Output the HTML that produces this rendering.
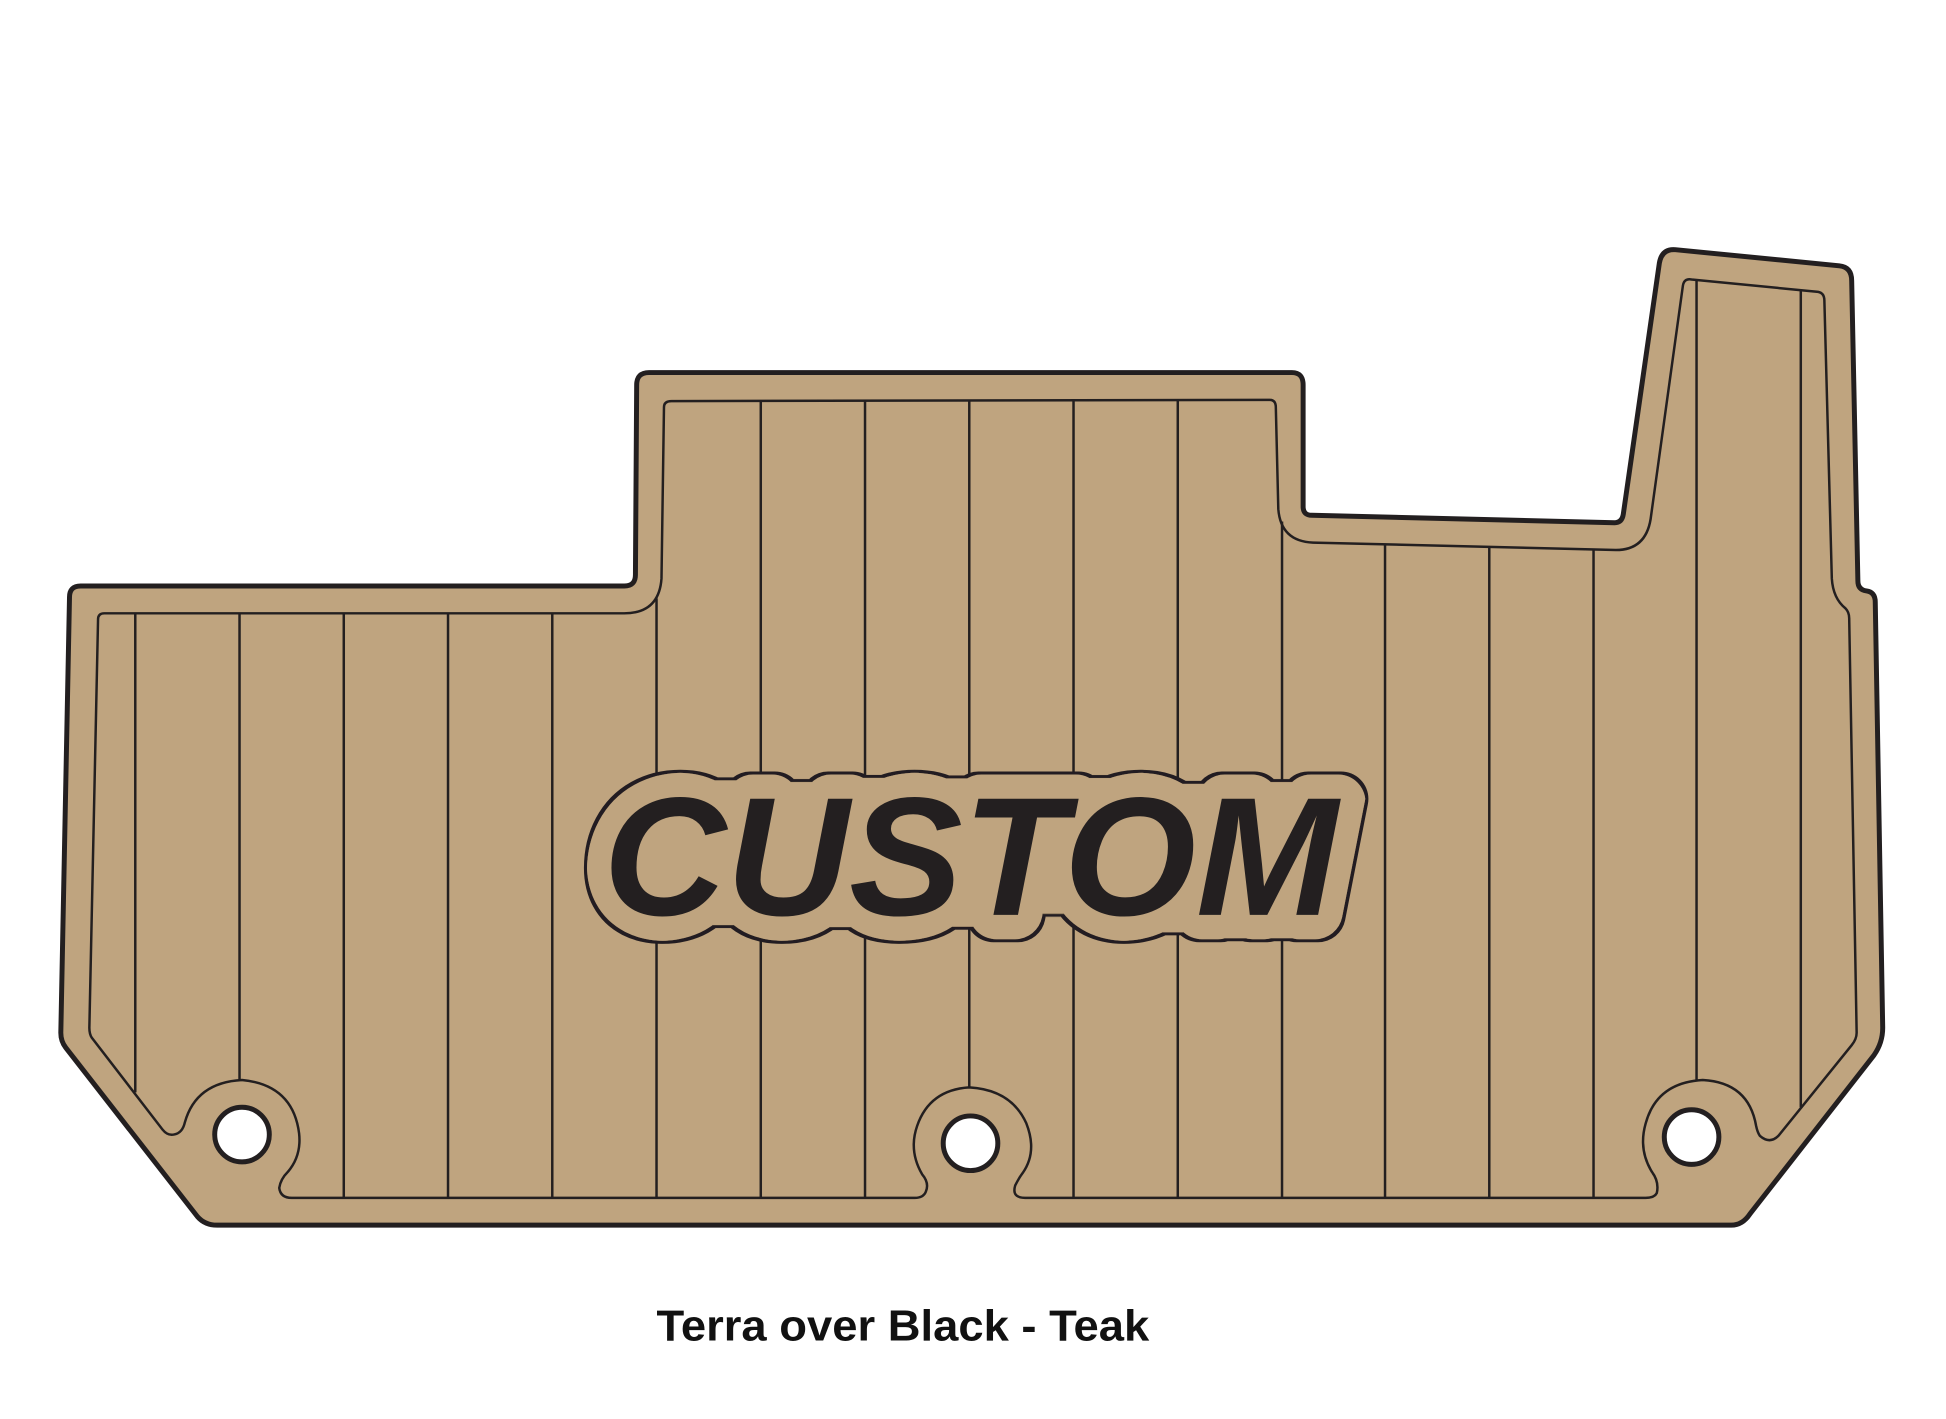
<!DOCTYPE html>
<html><head><meta charset="utf-8"><style>html,body{margin:0;padding:0;background:#fff}svg{display:block}</style></head><body>
<svg width="1946" height="1419" viewBox="0 0 1568 1143" xmlns="http://www.w3.org/2000/svg">
<defs>
<filter id="bub" x="-10%" y="-40%" width="120%" height="180%">
<feMorphology in="SourceAlpha" operator="dilate" radius="6" result="d"/>
<feMorphology in="d" operator="erode" radius="6" result="c"/>
<feMorphology in="c" operator="erode" radius="2.3" result="t"/>
<feFlood flood-color="#231F20" result="fd"/><feComposite in="fd" in2="c" operator="in" result="dk"/>
<feFlood flood-color="#BFA47F" result="ft"/><feComposite in="ft" in2="t" operator="in" result="tn"/>
<feMerge><feMergeNode in="dk"/><feMergeNode in="tn"/></feMerge>
</filter>
</defs>
<rect width="1568" height="1143" fill="#fff"/>
<path d="M65,472 L503,472 Q512,472 512,463 L513,310 Q513,300 523,300 L1041,300 Q1050,300 1050,310 L1050,408 Q1050,415 1057,415 L1301,421 Q1307,421 1308,414 L1337,212 Q1339,200 1350,201 L1482,214 Q1492,215 1492,226 L1497,468 Q1497,475 1504,476 Q1511,477 1511,485 L1517,828 Q1517,840 1510,850 L1410,978 Q1404,987 1395,987 L175,987 Q165,987 159,980 L53,844 Q49,839 49,832 L56,481 Q56,472 65,472 Z" fill="#BFA47F" stroke="#231F20" stroke-width="4"/>
<g fill="none" stroke="#231F20" stroke-width="2">
<path d="M84,494 L503,494 Q531,494 533,466 L535,328 Q535,323 541,323 L1023,322 Q1028,322 1028,328 L1030,410 Q1032,436 1058,437 L1302,443 Q1326,443 1330,418 L1356,230 Q1357,224 1363,225 L1465,235 Q1470,236 1470,242 L1476,466 Q1477,482 1487,490 Q1490,493 1490,498 L1496,832 Q1496,837 1492,842 L1433,915 Q1426,922 1418,915 Q1416,912 1415,907 Q1409,872 1372,870 Q1335,872 1326,905 Q1320,926 1331,944 Q1337,952 1335,961 Q1333,965 1326,965 L826,965 Q815,965 818,955 Q821,949 824,945 Q836,928 827,905 Q815,878 781,876 Q749,878 739,907 Q732,927 743,946 Q749,953 746,960 Q744,965 737,965 L235,965 Q226,965 225,957 Q226,950 232,944 Q243,931 241,913 Q236,874 195,870 Q158,872 149,904 Q147,913 140,914 Q135,915 131,910 L74,836 Q72,833 72,828 L79,499 Q79,494 84,494 Z"/>
</g>
<g stroke="#231F20" stroke-width="2">
<path d="M109,494V880 M193,494V870 M277,494V965 M361,494V965 M445,494V965 M529,482V965 M613,323V965 M697,323V965 M781,323V876 M865,322V965 M949,322V965 M1033,420V965 M1116,438V965 M1200,440V965 M1284,442V965 M1367,225V870 M1451,234V892"/>
</g>
<g fill="#fff" stroke="#231F20" stroke-width="4">
<circle cx="195" cy="914" r="22"/><circle cx="782" cy="921" r="22"/><circle cx="1363" cy="916" r="22"/>
</g>
<g font-family="Liberation Sans, sans-serif" font-weight="bold" font-style="italic" font-size="136">
<text x="486" y="737" textLength="592" lengthAdjust="spacingAndGlyphs" fill="#000" stroke="#000" stroke-width="44" stroke-linejoin="round" filter="url(#bub)">CUSTOM</text>
<text x="486" y="737" textLength="592" lengthAdjust="spacingAndGlyphs" fill="#231F20">CUSTOM</text>
</g>
<text x="529" y="1080" textLength="397" lengthAdjust="spacingAndGlyphs" font-family="Liberation Sans, sans-serif" font-weight="bold" font-size="35" fill="#111">Terra over Black  - Teak</text>
</svg>
</body></html>
